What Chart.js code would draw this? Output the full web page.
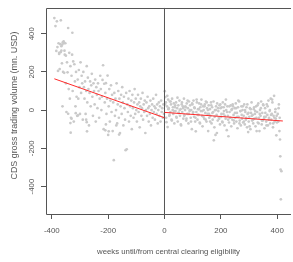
<!DOCTYPE html>
<html>
<head>
<meta charset="utf-8">
<script src="https://cdn.jsdelivr.net/npm/chart.js@4.4.1/dist/chart.umd.min.js"></script>
<style>
  html, body { margin: 0; padding: 0; background: #fff; }
  #wrap { width: 293px; height: 262px; }
</style>
</head>
<body>
<div id="wrap"><canvas id="chart" width="293" height="262"></canvas></div>
<script>
// weeks before central clearing eligibility and gross volume (mn. USD)
const preWeeks = [
  -391,-387,-384,-382,-380,-378,-376,-374,-372,-370,-368,-366,-364,-362,-360,-358,-356,-354,-352,-350,
  -348,-346,-344,-342,-340,-338,-336,-334,-332,-330,-328,-326,-324,-322,-320,-318,-316,-314,-312,-310,
  -308,-306,-304,-302,-300,-298,-296,-294,-292,-290,-288,-286,-284,-282,-280,-278,-276,-274,-272,-270,
  -268,-266,-264,-262,-260,-258,-256,-254,-252,-250,-248,-246,-244,-242,-240,-238,-236,-234,-232,-230,
  -228,-226,-224,-222,-220,-218,-216,-214,-212,-210,-208,-206,-204,-202,-200,-198,-196,-194,-192,-190,
  -188,-186,-184,-182,-180,-178,-176,-174,-172,-170,-168,-166,-164,-162,-160,-158,-156,-154,-152,-150,
  -148,-146,-144,-142,-140,-138,-136,-134,-132,-130,-128,-126,-124,-122,-120,-118,-116,-114,-112,-110,
  -108,-106,-104,-102,-100,-98,-96,-94,-92,-90,-88,-86,-84,-82,-80,-78,-76,-74,-72,-70,
  -68,-66,-64,-62,-60,-58,-56,-54,-52,-50,-48,-46,-44,-42,-40,-38,-36,-34,-32,-30,
  -28,-26,-24,-22,-20,-18,-16,-14,-12,-10,-8,-6,-4,-2,
  -333,-275,-208,-210,-198,-171,-161,-342,-330,-334,-315,-307,-278,-276,
  -327,-357,-363,-361,-366,-369,-374,-355,-350
];
const preVolume = [
  482,440,310,465,330,205,350,300,215,345,470,335,245,20,200,360,195,290,350,140,
  -10,250,198,430,110,300,60,230,-40,180,290,100,255,-60,240,150,20,200,70,-30,
  160,60,210,120,-20,250,90,180,140,-50,200,120,60,150,-20,100,230,40,170,110,
  -80,90,150,20,130,190,70,-30,140,100,30,160,-60,120,80,10,140,100,-40,60,
  180,110,0,70,158,235,-100,138,40,90,141,-20,60,181,-130,20,110,-60,50,130,
  -10,80,-110,40,-262,90,-30,60,0,140,-70,30,100,-40,60,-120,20,80,-20,120,
  40,-80,70,10,-50,-210,90,-205,30,-10,60,-60,100,20,-30,50,-100,80,10,-40,
  40,110,-20,60,0,-60,30,80,-10,40,-90,20,60,-30,10,90,-50,30,-10,50,
  -120,0,40,-30,70,10,-60,20,-20,50,-80,0,30,-40,60,-10,20,-50,10,80,
  -20,30,-70,0,40,-30,20,-60,50,-10,10,-40,30,-20,
  -118,-111,-75,-106,-111,-80,-128,-19,-45,-68,-16,-28,-50,-63,
  405,350,343,355,311,303,294,311,285
];

// weeks after central clearing eligibility
const postWeeks = [
  1,3,5,7,9,11,13,15,17,19,21,23,25,27,29,31,33,35,37,39,
  41,43,45,47,49,51,53,55,57,59,61,63,65,67,69,71,73,75,77,79,
  81,83,85,87,89,91,93,95,97,99,101,103,105,107,109,111,113,115,117,119,
  121,123,125,127,129,131,133,135,137,139,141,143,145,147,149,151,153,155,157,159,
  161,163,165,167,169,171,173,175,177,179,181,183,185,187,189,191,193,195,197,199,
  201,203,205,207,209,211,213,215,217,219,221,223,225,227,229,231,233,235,237,239,
  241,243,245,247,249,251,253,255,257,259,261,263,265,267,269,271,273,275,277,279,
  281,283,285,287,289,291,293,295,297,299,301,303,305,307,309,311,313,315,317,319,
  321,323,325,327,329,331,333,335,337,339,341,343,345,347,349,351,353,355,357,359,
  361,363,365,367,369,371,373,375,377,379,381,383,385,387,389,391,393,395,397,399,
  2,6,10,14,18,22,26,30,34,38,42,46,50,54,58,62,66,70,74,78,
  82,86,90,94,98,102,106,110,114,118,122,126,130,134,138,142,146,150,154,158,
  162,166,170,174,178,182,186,190,194,198,202,206,210,214,218,222,226,230,234,238,
  242,246,250,254,258,262,266,270,274,278,282,286,290,294,298,302,306,310,314,318,
  322,326,330,334,338,342,346,350,354,358,362,366,370,374,378,382,386,390,394,398,
  402,404,405,406,408,409,410,411,412,413,415
];
const postVolume = [
  99,68,40,-63,20,-89,55,10,-30,45,-10,30,-50,60,0,-20,35,-70,15,-5,
  40,-40,10,-60,25,-15,50,-30,5,-80,30,-10,20,-45,60,-25,0,15,-55,35,
  -20,10,-70,45,-5,25,-40,0,-100,30,-15,50,-35,10,-60,-111,-10,40,-50,5,
  -25,35,-65,15,-5,55,-30,-85,20,0,-45,30,-15,45,-60,10,-20,-110,25,-40,
  5,-30,40,-70,15,-50,-10,-158,-90,0,-130,20,-25,35,-55,-5,-40,25,-75,10,
  -35,15,-60,40,-20,-5,-80,30,-45,0,-105,20,-30,-137,-65,-10,-40,25,-85,5,
  -50,20,-25,-70,10,-40,35,-60,-15,-95,15,-35,45,-55,-5,-80,20,-45,0,-65,
  -30,30,-75,-10,-50,15,-90,-20,-115,-60,-35,10,-100,-15,40,-55,-25,-70,5,-45,
  -20,-85,20,-110,-10,-65,35,-40,-110,0,-30,45,-75,-15,-55,25,-45,-95,10,-35,
  -60,30,-25,-80,50,-40,-5,-70,60,-50,-20,40,-90,-30,75,-60,-10,-45,-132,-65,
  30,-40,75,5,-25,45,-55,15,-5,25,-35,65,-15,0,-75,40,10,-30,20,-45,
  50,-20,0,-60,35,-10,15,-40,55,-25,5,-70,30,-5,-35,20,-50,40,0,-20,
  -60,25,-15,45,-35,0,-120,10,-45,30,-20,-65,15,-30,55,-10,-50,20,-40,0,
  30,-55,-15,10,-35,50,-70,-5,-25,20,-60,0,-40,30,-15,-85,5,-30,-50,15,
  -5,-40,25,-70,-20,10,-55,30,-35,-15,-80,20,-50,0,-25,55,-70,-40,5,-30,
  -20,-60,10,30,-110,-40,-154,-242,-311,-467,-320
];

// fitted lines on each side of the cutoff
const fitPreX = [-391, 0];
const fitPreY = [164, -40];
const fitPostX = [0, 420];
const fitPostY = [-12, -57];

const xTicks = [-400, -200, 0, 200, 400];
const yTicks = [-400, -200, 0, 200, 400];
const xRange = [-420.6, 441.9];
const yRange = [-544, 536];

const xTitle = "weeks until/from central clearing eligibility";
const yTitle = "CDS gross trading volume (mn. USD)";

const toPoints = (xs, ys) => xs.map((x, i) => ({ x: x, y: ys[i] }));

Chart.defaults.font.family = "'Liberation Sans', Arial, sans-serif";

// R-like frame, rotated y labels and axis titles
const rFrame = {
  id: "rFrame",
  afterDraw(chart) {
    const { ctx, chartArea: a, scales } = chart;
    ctx.save();
    ctx.strokeStyle = "#555";
    ctx.lineWidth = 1;
    ctx.beginPath();
    ctx.moveTo(a.right + 2, Math.round(a.top) + 0.5);
    ctx.lineTo(Math.round(a.left) + 0.5, Math.round(a.top) + 0.5);
    ctx.lineTo(Math.round(a.left) + 0.5, Math.round(a.bottom) + 0.5);
    ctx.lineTo(a.right + 2, Math.round(a.bottom) + 0.5);
    ctx.stroke();

    ctx.fillStyle = "#555";
    ctx.font = "7.9px 'Liberation Sans', Arial, sans-serif";
    ctx.textAlign = "center";
    ctx.textBaseline = "middle";
    yTicks.forEach(v => {
      const py = scales.y.getPixelForValue(v);
      ctx.save();
      ctx.translate(32, py);
      ctx.rotate(-Math.PI / 2);
      ctx.fillText(String(v), 0, 0);
      ctx.restore();
    });

    ctx.font = "7.8px 'Liberation Sans', Arial, sans-serif";
    ctx.fillText(xTitle, 168.5, 251.5);

    ctx.save();
    ctx.font = "8.9px 'Liberation Sans', Arial, sans-serif";
    ctx.translate(14.5, 105.5);
    ctx.rotate(-Math.PI / 2);
    ctx.fillText(yTitle, 0, 0);
    ctx.restore();
    ctx.restore();
  }
};

new Chart(document.getElementById("chart"), {
  type: "scatter",
  data: {
    datasets: [
      {
        data: toPoints(preWeeks, preVolume).concat(toPoints(postWeeks, postVolume)),
        backgroundColor: "#cacaca",
        borderWidth: 0,
        pointRadius: 1.35,
        order: 3
      },
      {
        data: [{ x: 0, y: yRange[0] }, { x: 0, y: yRange[1] }],
        showLine: true,
        borderColor: "#555",
        borderWidth: 1,
        pointRadius: 0,
        order: 2
      },
      {
        data: toPoints(fitPreX, fitPreY),
        showLine: true,
        borderColor: "#ff2a2a",
        borderWidth: 1,
        pointRadius: 0,
        order: 1
      },
      {
        data: toPoints(fitPostX, fitPostY),
        showLine: true,
        borderColor: "#ff2a2a",
        borderWidth: 1,
        pointRadius: 0,
        order: 1
      }
    ]
  },
  options: {
    responsive: false,
    animation: false,
    layout: { padding: { top: 7, left: 0, right: 0, bottom: 0 } },
    plugins: { legend: { display: false }, tooltip: { enabled: false } },
    scales: {
      x: {
        type: "linear",
        min: xRange[0],
        max: xRange[1],
        afterFit: s => { s.height = 48; },
        afterBuildTicks: s => { s.ticks = xTicks.map(v => ({ value: v })); },
        border: { display: false },
        grid: { drawOnChartArea: false, drawTicks: true, tickLength: 5, color: "#555" },
        ticks: { color: "#555", padding: 7, maxRotation: 0, font: { size: 7.9 } }
      },
      y: {
        type: "linear",
        min: yRange[0],
        max: yRange[1],
        afterFit: s => { s.width = 46; },
        afterBuildTicks: s => { s.ticks = yTicks.map(v => ({ value: v })); },
        border: { display: false },
        grid: { drawOnChartArea: false, drawTicks: true, tickLength: 5, color: "#555" },
        ticks: { color: "rgba(0,0,0,0)", font: { size: 7.9 } }
      }
    }
  },
  plugins: [rFrame]
});
</script>
</body>
</html>
